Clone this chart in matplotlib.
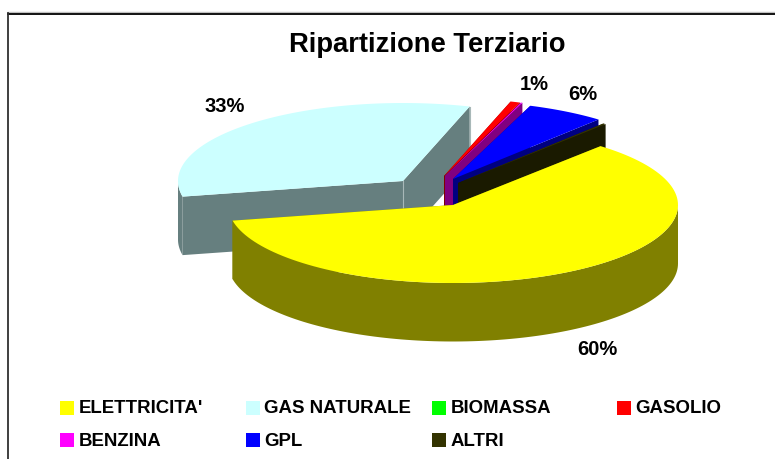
import matplotlib
matplotlib.use("Agg")
import matplotlib.pyplot as plt
import numpy as np
from matplotlib.patches import Polygon, Rectangle

categories = ["ELETTRICITA'", "GAS NATURALE", "BIOMASSA", "GASOLIO", "BENZINA", "GPL", "ALTRI"]
values = [60.4, 33.0, 0.0, 0.7, 0.1, 5.6, 0.2]
top_colors = ["#ffff00", "#ccffff", "#00ff00", "#ff0000", "#ff00ff", "#0000ff", "#333300"]
side_colors = ["#808000", "#667f7f", "#008000", "#800000", "#800080", "#000080", "#1a1a00"]
percent_labels = ["60%", "33%", "1%", "6%"]

plt.rcParams["font.family"] = ["Liberation Sans", "DejaVu Sans"]

A, B = 225.0, 78.0  # pie ellipse radii, pixels
DEPTH = 58.5
START = 49.0  # top-face angle where the first slice begins, going clockwise

# apex of each slice on the canvas (exploded pie)
apex = [(453, 206), (403, 182), (446, 177), (444, 177), (445, 177), (453, 180), (458, 184)]
# back to front
draw_order = [1, 2, 3, 4, 5, 6, 0]

fig = plt.figure(figsize=(7.75, 4.6), dpi=100)
ax = fig.add_axes([0, 0, 1, 1])
ax.set_xlim(0, 775)
ax.set_ylim(460, 0)
ax.axis("off")

# chart frame: only the top and left edges fall inside the picture
ax.plot([8, 775], [13.4, 13.4], color="#c0c0c0", lw=1, zorder=1)
ax.plot([8, 775], [14.6, 14.6], color="black", lw=1.3, zorder=1)
ax.plot([8, 8], [14, 460], color="#303030", lw=1.3, zorder=1)

edges = START - np.cumsum([0.0] + values) * 3.6


def rim(cx, cy, t0, t1, n=120):
    t = np.radians(np.linspace(t0, t1, n))
    return np.column_stack([cx + A * np.cos(t), cy - B * np.sin(t)])


def draw_slice(i, z):
    if values[i] == 0:
        return
    cx, cy = apex[i]
    t0, t1 = edges[i], edges[i + 1]
    arc = rim(cx, cy, t0, t1)
    drop = np.array([0, DEPTH])
    centre = np.array([cx, cy], dtype=float)

    # the two cut faces
    for end in (arc[0], arc[-1]):
        quad = [centre, end, end + drop, centre + drop]
        ax.add_patch(Polygon(quad, fc=side_colors[i], ec="none", zorder=z))

    # outer wall, only where the rim faces the viewer
    ts = np.linspace(t0, t1, 240)
    front = ts[np.sin(np.radians(ts)) < 0]
    if len(front) > 1:
        low = rim(cx, cy, front[0], front[-1])
        wall = np.vstack([low, (low + drop)[::-1]])
        ax.add_patch(Polygon(wall, fc=side_colors[i], ec="none", zorder=z))

    # light ridges on the gas slice walls
    if i == 1:
        ax.plot([cx, cx], [cy, cy + DEPTH], color="#a8b8b8", lw=0.8, zorder=z + 0.1)
        ax.plot([arc[-1][0]] * 2, [arc[-1][1], arc[-1][1] + DEPTH], color="#a8b8b8", lw=0.8, zorder=z + 0.1)

    top = np.vstack([centre, arc])
    ax.add_patch(Polygon(top, fc=top_colors[i], ec="none", zorder=z + 0.2))


for z, i in enumerate(draw_order):
    draw_slice(i, 2 + z)

ax.text(427.5, 45, "Ripartizione Terziario", ha="center", va="center", fontsize=19.7, fontweight="bold")

label_pos = [(597, 350), (225, 106), (534, 85), (583, 94)]
for txt, (x, y) in zip(percent_labels, label_pos):
    ax.text(x, y, txt, ha="center", va="center", fontsize=14.5, fontweight="bold", color="black")

swatch_x = [60, 246, 432, 617, 60, 246, 432]
swatch_y = [402, 402, 402, 402, 434, 434, 434]
text_y = [408.5, 408.5, 408.5, 408.5, 442, 442, 442]
for name, col, x, y, ty in zip(categories, top_colors, swatch_x, swatch_y, text_y):
    ax.add_patch(Rectangle((x, y), 14, 14, fc=col, ec="none", zorder=20))
    ax.text(x + 18.5, ty, name, ha="left", va="center", fontsize=13.4, fontweight="bold", color="black")

fig.savefig("out.png", dpi=100)
plt.close(fig)
